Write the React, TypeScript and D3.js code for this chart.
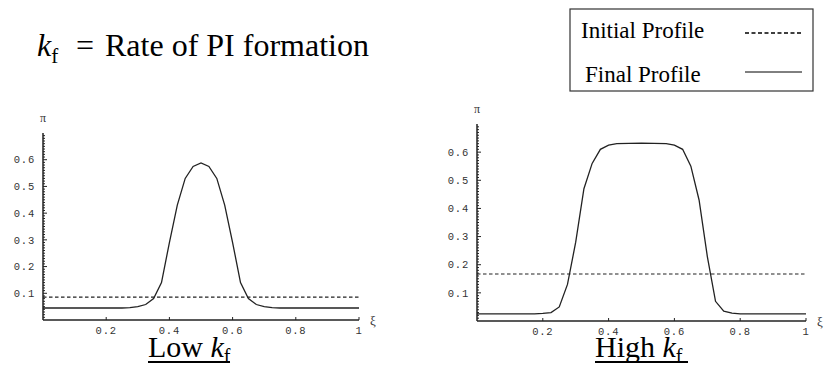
import React from "react";
import * as d3 from "d3";

// xi positions and profile values
const lowXi = [0, 0.25, 0.275, 0.3, 0.325, 0.35, 0.375, 0.4, 0.425, 0.45, 0.475, 0.5, 0.525, 0.55, 0.575, 0.6, 0.625, 0.65, 0.675, 0.7, 0.725, 0.75, 1];
const lowFinal = [0.045, 0.045, 0.046, 0.05, 0.058, 0.08, 0.14, 0.29, 0.43, 0.53, 0.575, 0.588, 0.575, 0.53, 0.43, 0.29, 0.14, 0.08, 0.058, 0.05, 0.046, 0.045, 0.045];
const lowInitial = 0.086;

const highXi = [0, 0.175, 0.2, 0.225, 0.25, 0.275, 0.3, 0.325, 0.35, 0.375, 0.4, 0.425, 0.5, 0.575, 0.6, 0.625, 0.65, 0.675, 0.7, 0.725, 0.75, 0.775, 0.8, 1];
const highFinal = [0.025, 0.025, 0.027, 0.03, 0.05, 0.13, 0.28, 0.47, 0.56, 0.61, 0.625, 0.63, 0.632, 0.63, 0.625, 0.61, 0.55, 0.43, 0.23, 0.07, 0.035, 0.028, 0.025, 0.025];
const highInitial = 0.167;

const xTickLabels = ["0.2", "0.4", "0.6", "0.8", "1"];
const yTickLabels = ["0.1", "0.2", "0.3", "0.4", "0.5", "0.6"];

const tickFont = "'Liberation Mono', 'DejaVu Sans Mono', monospace";
const serif = "'Liberation Serif', 'Times New Roman', serif";

interface PlotProps {
  xi: number[];
  final: number[];
  initial: number;
  x0: number;
  x1: number;
  yBottom: number;
  yTop: number;
}

const Plot: React.FC<PlotProps> = ({ xi, final, initial, x0, x1, yBottom, yTop }) => {
  const x = d3.scaleLinear().domain([0, 1]).range([x0, x1]);
  const y = d3.scaleLinear().domain([0, 0.7]).range([yBottom, yTop]);

  const line = d3
    .line<number>()
    .x((_, i) => x(xi[i]))
    .y((d) => y(d));

  const minor = d3.range(1, 70).map((d) => d / 100);

  return (
    <g>
      {/* axes */}
      <line x1={x(0)} x2={x(0)} y1={y(0)} y2={y(0.7)} stroke="#222" strokeWidth={1.5} />
      <line x1={x(0)} x2={x(1)} y1={y(0)} y2={y(0)} stroke="#222" strokeWidth={1.5} />

      {minor.map((v) => (
        <line
          key={"m" + v}
          x1={x(0)}
          x2={x(0) + (Math.round(v * 100) % 10 === 0 ? 4 : 2)}
          y1={y(v)}
          y2={y(v)}
          stroke="#222"
          strokeWidth={1}
        />
      ))}
      {yTickLabels.map((t) => (
        <text
          key={"y" + t}
          x={x(0) - 8}
          y={y(+t)}
          dy="0.35em"
          textAnchor="end"
          fontFamily={tickFont}
          fontSize={10.5}
          letterSpacing={0.8}
          fill="#333"
        >
          {t}
        </text>
      ))}
      {xTickLabels.map((t) => (
        <g key={"x" + t}>
          <line x1={x(+t)} x2={x(+t)} y1={y(0)} y2={y(0) - 3} stroke="#222" strokeWidth={1} />
          <text
            x={x(+t)}
            y={y(0) + 14}
            textAnchor="middle"
            fontFamily={tickFont}
            fontSize={10.5}
            letterSpacing={0.8}
            fill="#333"
          >
            {t}
          </text>
        </g>
      ))}
      <text x={x(0)} y={y(0.7) - 11} textAnchor="middle" fontFamily={serif} fontSize={12} fill="#333">
        π
      </text>
      <text x={x(1) + 14} y={y(0) + 5} textAnchor="middle" fontFamily={serif} fontSize={13} fill="#333">
        ξ
      </text>

      {/* profiles */}
      <line
        x1={x(0)}
        x2={x(1)}
        y1={y(initial)}
        y2={y(initial)}
        stroke="#222"
        strokeWidth={1.2}
        strokeDasharray="3.5,2.5"
      />
      <path d={line(final) ?? ""} fill="none" stroke="#222" strokeWidth={1.3} />
    </g>
  );
};

const App: React.FC = () => {
  return (
    <div style={{ position: "absolute", left: 0, top: 0 }}>
      <svg width={827} height={376} style={{ display: "block", background: "#fff" }}>
        {/* title */}
        <text x={37} y={56} fontFamily={serif} fontSize={32} fill="#000">
          <tspan fontStyle="italic">k</tspan>
          <tspan fontSize={21} dy={7}>f</tspan>
        </text>
        <text x={76} y={56} fontFamily={serif} fontSize={32} fill="#000">=</text>
        <text x={105} y={56} fontFamily={serif} fontSize={32} fill="#000">Rate of PI formation</text>

        {/* legend */}
        <rect x={570} y={9} width={243} height={82} fill="#fff" stroke="#333" strokeWidth={1.2} />
        <text x={581} y={38} fontFamily={serif} fontSize={23} fill="#000">Initial Profile</text>
        <text x={585} y={82} fontFamily={serif} fontSize={23} fill="#000">Final Profile</text>
        <line x1={745} x2={803} y1={33} y2={33} stroke="#000" strokeWidth={1.5} strokeDasharray="4,2.5" />
        <line x1={745} x2={802} y1={72} y2={72} stroke="#000" strokeWidth={1} />

        <Plot xi={lowXi} final={lowFinal} initial={lowInitial} x0={43} x1={359} yBottom={320} yTop={133} />
        <Plot xi={highXi} final={highFinal} initial={highInitial} x0={477} x1={806} yBottom={321} yTop={124} />

        {/* panel captions */}
        <text x={148} y={357} fontFamily={serif} fontSize={30} fill="#000">
          Low <tspan fontStyle="italic">k</tspan>
          <tspan fontSize={20} dy={6}>f</tspan>
        </text>
        <line x1={148} x2={230} y1={362} y2={362} stroke="#000" strokeWidth={2} />
        <text x={595} y={357} fontFamily={serif} fontSize={30} fill="#000">
          High <tspan fontStyle="italic">k</tspan>
          <tspan fontSize={20} dy={6}>f</tspan>
        </text>
        <line x1={595} x2={688} y1={362} y2={362} stroke="#000" strokeWidth={2} />
      </svg>
    </div>
  );
};

export default App;
